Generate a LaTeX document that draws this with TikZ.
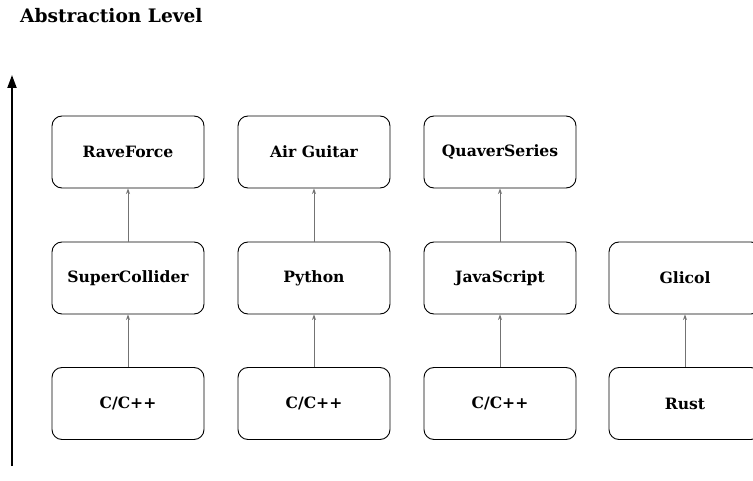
\documentclass[tikz,border=0pt]{standalone}
\usepackage{fontspec}
\setmainfont{DejaVu Serif}
\usetikzlibrary{arrows.meta}
\begin{document}
\begin{tikzpicture}[x=1pt,y=-1pt,
  box/.style={draw=black, line width=0.9pt, fill=white, rounded corners=10pt,
    minimum width=152pt, minimum height=72pt, inner sep=0pt,
    font=\fontsize{15.6}{18}\selectfont\bfseries},
  link/.style={draw=black!55, line width=0.8pt, -{Stealth[length=5.5pt,width=4pt]}},
  axis/.style={line width=2pt, -{Triangle[length=13pt,width=9pt]}}]
\useasboundingbox (0,0) rectangle (753,481);
\clip (0,0) rectangle (753,481);
\node[anchor=west, inner sep=0pt, font=\fontsize{18.6}{22}\selectfont\bfseries] (title) at (20,16) {Abstraction Level};
\coordinate (axb) at (12,466);
\coordinate (axt) at (12,75);
\draw[axis] (axb) -- (axt);
\node[box] (a1) at (128,152) {RaveForce};
\node[box] (a2) at (314,152) {Air Guitar};
\node[box] (a3) at (500,152) {QuaverSeries};
\node[box] (b1) at (128,278) {SuperCollider};
\node[box] (b2) at (314,278) {Python};
\node[box] (b3) at (500,278) {JavaScript};
\node[box] (b4) at (685,278) {Glicol};
\node[box] (c1) at (128,403.5) {C/C++};
\node[box] (c2) at (314,403.5) {C/C++};
\node[box] (c3) at (500,403.5) {C/C++};
\node[box] (c4) at (685,403.5) {Rust};
\foreach \u/\l in {b1/a1,b2/a2,b3/a3,c1/b1,c2/b2,c3/b3,c4/b4}
  \draw[link] (\u.north) -- (\l.south);
\end{tikzpicture}
\end{document}
